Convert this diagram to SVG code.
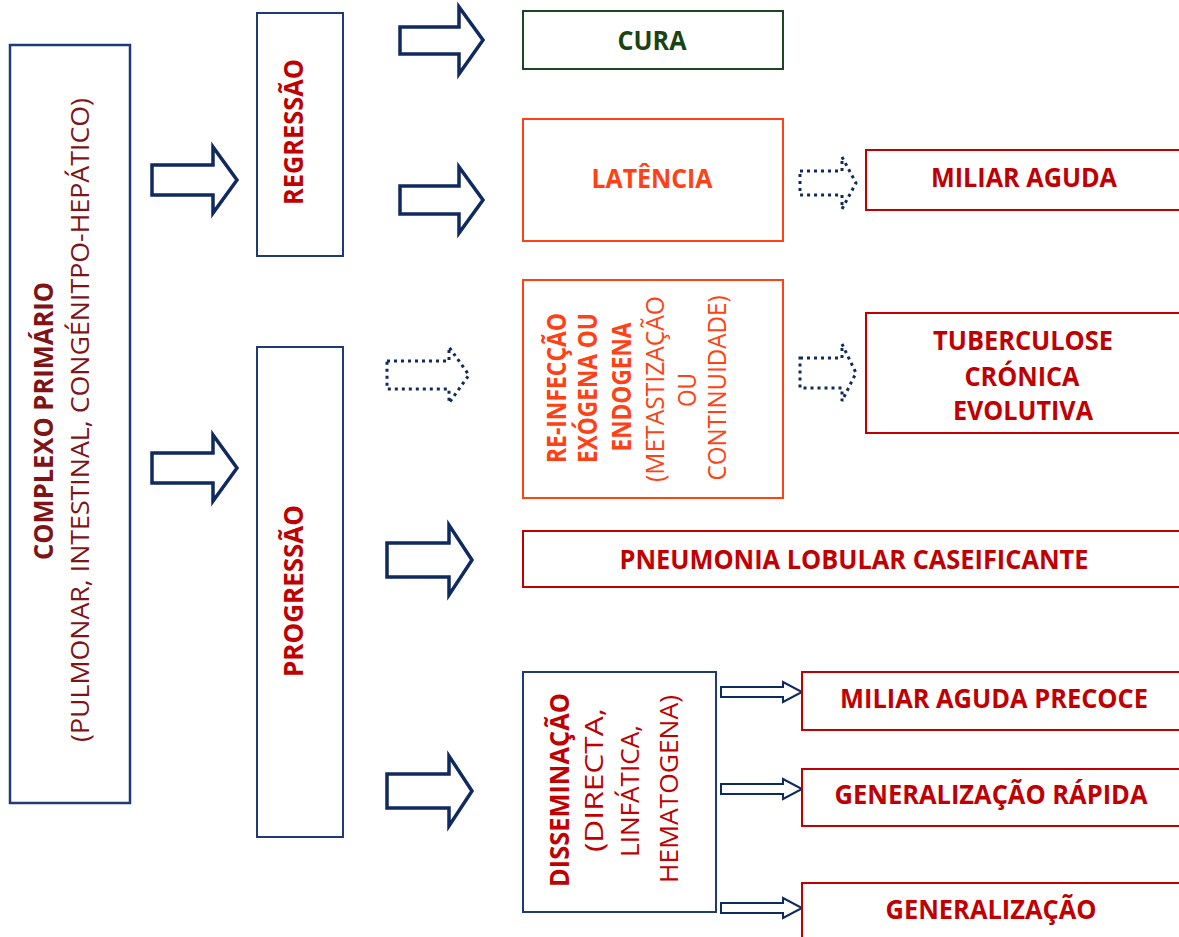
<svg xmlns="http://www.w3.org/2000/svg" xmlns:xlink="http://www.w3.org/1999/xlink" width="1179" height="937" viewBox="0 0 1179 937">
<style>
text{font-family:"Open Sans","Liberation Sans",sans-serif;font-size:26px;}
.b{font-weight:bold;}
.r{font-weight:normal;}
.navybox{fill:#fff;stroke:#1f3a75;stroke-width:2.5;}
.redbox{fill:#fff;stroke:#c00000;stroke-width:2;}
.orbox{fill:#fff;stroke:#ff4115;stroke-width:2;}
.grbox{fill:#fff;stroke:#1e4620;stroke-width:2;}
.maroon{fill:#7f1417;}
.red{fill:#c00000;}
.or{fill:#ff4115;}
.gr{fill:#1a4314;}
.big{fill:#fff;stroke:#0f2a5e;stroke-width:3.5;stroke-linejoin:miter;}
.dot{fill:none;stroke:#0f2a5e;stroke-width:3;stroke-dasharray:3 4;}
.small{fill:#fff;stroke:#0f2a5e;stroke-width:2;}
</style>
<defs>
<path id="bigArrow" d="M0,-15 H61 V-33 L85,0 L61,33 V15 H0 Z"/>
</defs>
<rect width="1179" height="937" fill="#fff"/>

<g id="connectors">
<use href="#bigArrow" class="big" x="152" y="180"/>
<use href="#bigArrow" class="big" x="152" y="468"/>
<path class="big" d="M400,27 H459 V7 L483,40 L459,74 V54 H400 Z"/>
<path class="big" d="M400,186 H459 V167 L483,200 L459,233 V214 H400 Z"/>
<path class="big" d="M387,543 H449 V525 L472,560 L449,595 V577 H387 Z"/>
<path class="big" d="M387,774 H449 V756 L472,791 L449,826 V808 H387 Z"/>
<path class="dot" d="M387,361 H449 V347 L469,375 L449,403 V389 H387 Z"/>
<path class="dot" d="M800,171 H842 V157 L856,183 L842,209 V195 H800 Z"/>
<path class="dot" d="M800,358 H842 V344 L856,373 L842,401 V388 H800 Z"/>
<path class="small" d="M721,687 H783 V682 L802,692 L783,702 V697 H721 Z"/>
<path class="small" d="M721,784 H783 V779 L802,789 L783,799 V794 H721 Z"/>
<path class="small" d="M721,903 H783 V898 L802,908 L783,918 V913 H721 Z"/>
</g>

<g id="complexo">
<rect class="navybox" x="10" y="45" width="120" height="758"/>
<text class="b maroon" font-size="28" text-anchor="middle" transform="translate(53,421) rotate(-90)" textLength="278" lengthAdjust="spacingAndGlyphs">COMPLEXO PRIMÁRIO</text>
<text class="r maroon" font-size="28" text-anchor="middle" transform="translate(89,420) rotate(-90)" textLength="644" lengthAdjust="spacingAndGlyphs">(PULMONAR, INTESTINAL, CONGÉNITPO-HEPÁTICO)</text>
</g>

<g id="regressao">
<rect class="navybox" x="257" y="13" width="86" height="243" style="stroke-width:2"/>
<text class="b red" text-anchor="middle" transform="translate(303,132) rotate(-90)" textLength="146" lengthAdjust="spacingAndGlyphs">REGRESSÃO</text>
</g>

<g id="progressao">
<rect class="navybox" x="257" y="347" width="86" height="490" style="stroke-width:2"/>
<text class="b red" text-anchor="middle" transform="translate(303,591) rotate(-90)" textLength="172" lengthAdjust="spacingAndGlyphs">PROGRESSÃO</text>
</g>

<g id="cura">
<rect class="grbox" x="523" y="11" width="260" height="58"/>
<text class="b gr" x="652" y="50" text-anchor="middle" textLength="69" lengthAdjust="spacingAndGlyphs">CURA</text>
</g>

<g id="latencia">
<rect class="orbox" x="523" y="119" width="260" height="122"/>
<text class="b or" x="652" y="188" text-anchor="middle" textLength="121" lengthAdjust="spacingAndGlyphs">LATÊNCIA</text>
</g>

<g id="reinfeccao">
<rect class="orbox" x="523" y="280" width="260" height="218"/>
<text class="b or" text-anchor="middle" transform="translate(566,388) rotate(-90)" textLength="150" lengthAdjust="spacingAndGlyphs">RE-INFECÇÃO</text>
<text class="b or" text-anchor="middle" transform="translate(597,388) rotate(-90)" textLength="150" lengthAdjust="spacingAndGlyphs">EXÓGENA OU</text>
<text class="b or" text-anchor="middle" transform="translate(631,387) rotate(-90)" textLength="129" lengthAdjust="spacingAndGlyphs">ENDOGENA</text>
<text class="r or" text-anchor="middle" transform="translate(664,389) rotate(-90)" textLength="186" lengthAdjust="spacingAndGlyphs">(METASTIZAÇÃO</text>
<text class="r or" text-anchor="middle" transform="translate(696,390) rotate(-90)" textLength="34" lengthAdjust="spacingAndGlyphs">OU</text>
<text class="r or" text-anchor="middle" transform="translate(726,388) rotate(-90)" textLength="185" lengthAdjust="spacingAndGlyphs">CONTINUIDADE)</text>
</g>

<g id="miliar-aguda">
<rect class="redbox" x="866" y="150" width="316" height="60"/>
<text class="b red" x="1024" y="187" text-anchor="middle" textLength="186" lengthAdjust="spacingAndGlyphs">MILIAR AGUDA</text>
</g>

<g id="tuberculose">
<rect class="redbox" x="866" y="313" width="316" height="120"/>
<text class="b red" x="1023" y="350" text-anchor="middle" textLength="180" lengthAdjust="spacingAndGlyphs">TUBERCULOSE</text>
<text class="b red" x="1022" y="386" text-anchor="middle" textLength="115" lengthAdjust="spacingAndGlyphs">CRÓNICA</text>
<text class="b red" x="1023" y="420" text-anchor="middle" textLength="140" lengthAdjust="spacingAndGlyphs">EVOLUTIVA</text>
</g>

<g id="pneumonia">
<rect class="redbox" x="523" y="531" width="659" height="56"/>
<text class="b red" x="854" y="569" text-anchor="middle" textLength="469" lengthAdjust="spacingAndGlyphs">PNEUMONIA LOBULAR CASEIFICANTE</text>
</g>

<g id="disseminacao">
<rect class="navybox" x="523" y="672" width="193" height="240" style="stroke-width:2"/>
<text class="b red" text-anchor="middle" transform="translate(569,790) rotate(-90)" textLength="194" lengthAdjust="spacingAndGlyphs">DISSEMINAÇÃO</text>
<text class="r red" text-anchor="middle" transform="translate(603,780) rotate(-90)" textLength="144" lengthAdjust="spacingAndGlyphs">(DIRECTA,</text>
<text class="r red" text-anchor="middle" transform="translate(639,791) rotate(-90)" textLength="132" lengthAdjust="spacingAndGlyphs">LINFÁTICA,</text>
<text class="r red" text-anchor="middle" transform="translate(678,789) rotate(-90)" textLength="188" lengthAdjust="spacingAndGlyphs">HEMATOGENA)</text>
</g>

<g id="miliar-precoce">
<rect class="redbox" x="802" y="672" width="380" height="58"/>
<text class="b red" x="994" y="708" text-anchor="middle" textLength="308" lengthAdjust="spacingAndGlyphs">MILIAR AGUDA PRECOCE</text>
</g>

<g id="generalizacao-rapida">
<rect class="redbox" x="802" y="769" width="380" height="57"/>
<text class="b red" x="991" y="804" text-anchor="middle" textLength="313" lengthAdjust="spacingAndGlyphs">GENERALIZAÇÃO RÁPIDA</text>
</g>

<g id="generalizacao">
<rect class="redbox" x="802" y="883" width="380" height="60"/>
<text class="b red" x="991" y="919" text-anchor="middle" textLength="211" lengthAdjust="spacingAndGlyphs">GENERALIZAÇÃO</text>
</g>
</svg>
